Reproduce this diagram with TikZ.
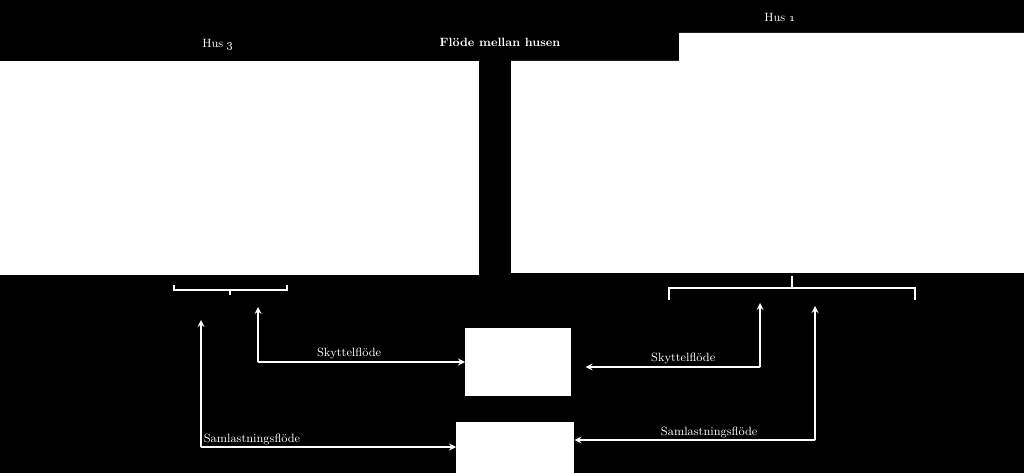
\documentclass[tikz,border=0pt]{standalone}
\usetikzlibrary{positioning}
\begin{document}
\begin{tikzpicture}[x=0.75pt, y=-0.75pt]
		\tikzset{hub/.style={fill=white, inner sep=0pt, anchor=north west},
			lbl/.style={white, font=\small, inner sep=1pt},
			flow/.style={white, line width=1.3pt, rounded corners=0.5pt, >=stealth},
			brk/.style={white, line width=1pt}};

		\fill[black] (0,0) rectangle (1024,473);
		\useasboundingbox (0,0) rectangle (1024,473);

		% houses
		\fill[white] (0,61) rectangle (479,275);
		\fill[white] (511,61) -- (679,61) -- (679,33) -- (1024,33) -- (1024,273) -- (511,273) -- cycle;
		\node[lbl] (hus3) at (218,45) {Hus \oldstylenums{3}};
		\node[lbl] (hus1) at (780,17) {Hus \oldstylenums{1}};
		\node[lbl, font=\small\bfseries] (title) at (500,42) {Flöde mellan husen};

		% brackets
		\draw[brk] (174,285) -- (174,290) -- (287,290) -- (287,285);
		\draw[brk] (230,290) -- (230,295);
		\draw[brk] (669,300) -- (669,288) -- (915,288) -- (915,300);
		\draw[brk] (792,288) -- (792,276);

		% center boxes
		\node[hub, minimum width=106*0.75pt, minimum height=68*0.75pt] (sk) at (465,328) {};
		\node[hub, minimum width=118*0.75pt, minimum height=60*0.75pt] (sa) at (456,422) {};

		\coordinate (l1) at (258,307);
		\coordinate (l2) at (201,320);
		\coordinate (r1) at (760,303);
		\coordinate (r2) at (815,306);

		\draw[flow, <->] (l1) |- (sk.west |- 0,362) node[lbl, pos=0.72, above=1pt] {Skyttelflöde};
		\draw[flow, <->] (l2) |- (sa.west |- 0,447) node[lbl, pos=0.6, above=0pt] {Samlastningsflöde};
		\draw[flow, <->] (r1) |- ([xshift=14*0.75pt]sk.east |- 0,367) node[lbl, pos=0.72, above=1pt] {Skyttelflöde};
		\draw[flow, <->] (r2) |- (sa.east |- 0,440) node[lbl, pos=0.72, above=0pt] {Samlastningsflöde};

	\end{tikzpicture}
\end{document}
